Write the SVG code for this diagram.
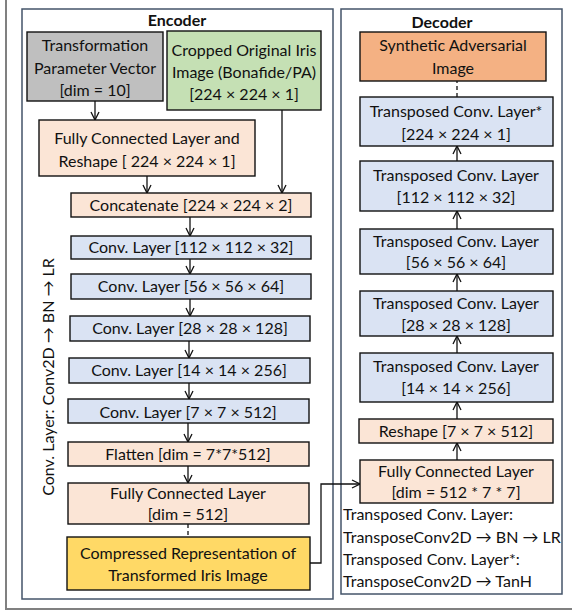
<svg xmlns="http://www.w3.org/2000/svg" width="572" height="615" viewBox="0 0 572 615">
<defs>
<style>
text{font-family:Lato,"Liberation Sans",sans-serif;font-size:16px;fill:#111;text-anchor:middle}
.t{font-weight:bold}
.l{text-anchor:start}
.n{stroke:#111;stroke-width:1.4}
.g{fill:#bfbfbf}.gr{fill:#c5e0b4}.p{fill:#fbe5d6}.b{fill:#dae3f3}.y{fill:#ffd966}.o{fill:#f4b183}
.c{fill:none;stroke:#111;stroke-width:1.3}
.d{stroke-dasharray:4,3}
.box{fill:#fff;stroke:#44546a;stroke-width:1.5}
</style>
<marker id="ah" viewBox="0 0 10 10" refX="9" refY="5" markerWidth="10" markerHeight="10" markerUnits="userSpaceOnUse" orient="auto">
<path d="M1,1 L9,5 L1,9" fill="none" stroke="#111" stroke-width="1.3"/>
</marker>
</defs>
<rect x="0" y="0" width="572" height="615" fill="#fff"/>
<rect x="6" y="-5" width="580" height="614" fill="none" stroke="#808080" stroke-width="2"/>
<g id="encoder">
<rect class="box" x="22" y="9" width="311" height="590"/>
<text class="t" x="177" y="26">Encoder</text>
<text transform="translate(54,377) rotate(-90)">Conv. Layer: Conv2D → BN → LR</text>
</g>
<g id="decoder">
<rect class="box" x="341" y="9" width="221" height="585"/>
<text class="t" x="442" y="28">Decoder</text>
<text class="l" x="343" y="520">Transposed Conv. Layer:</text>
<text class="l" x="343" y="543">TransposeConv2D → BN → LR</text>
<text class="l" x="343" y="565">Transposed Conv. Layer*:</text>
<text class="l" x="343" y="587">TransposeConv2D → TanH</text>
</g>
<g id="connectors">
<line class="c" x1="95" y1="101" x2="95" y2="120" marker-end="url(#ah)"/>
<line class="c" x1="147" y1="176" x2="147" y2="193" marker-end="url(#ah)"/>
<line class="c" x1="282" y1="110" x2="282" y2="193" marker-end="url(#ah)"/>
<line class="c" x1="190" y1="217" x2="190" y2="236" marker-end="url(#ah)"/>
<line class="c" x1="190" y1="259" x2="190" y2="274" marker-end="url(#ah)"/>
<line class="c" x1="190" y1="299" x2="190" y2="316" marker-end="url(#ah)"/>
<line class="c" x1="189" y1="341" x2="189" y2="358" marker-end="url(#ah)"/>
<line class="c" x1="189" y1="383" x2="189" y2="399" marker-end="url(#ah)"/>
<line class="c" x1="188" y1="423" x2="188" y2="442" marker-end="url(#ah)"/>
<line class="c" x1="188" y1="466" x2="188" y2="483" marker-end="url(#ah)"/>
<line class="c d" x1="188" y1="524" x2="188" y2="537"/>
<polyline class="c" points="310,563 321,563 321,484 360,484" marker-end="url(#ah)"/>
<line class="c" x1="457" y1="460" x2="457" y2="443" marker-end="url(#ah)"/>
<line class="c" x1="457" y1="419" x2="457" y2="402" marker-end="url(#ah)"/>
<line class="c" x1="457" y1="353" x2="457" y2="336" marker-end="url(#ah)"/>
<line class="c" x1="457" y1="291" x2="457" y2="274" marker-end="url(#ah)"/>
<line class="c" x1="457" y1="229" x2="457" y2="211" marker-end="url(#ah)"/>
<line class="c" x1="457" y1="161" x2="457" y2="146" marker-end="url(#ah)"/>
<line class="c d" x1="457" y1="97" x2="457" y2="81"/>
</g>
<g id="param">
<rect class="n g" x="27" y="32" width="136" height="69"/>
<text x="95" y="51">Transformation</text>
<text x="95" y="74">Parameter Vector</text>
<text x="95" y="96">[dim = 10]</text>
</g>
<g id="iris">
<rect class="n gr" x="167" y="31" width="154" height="79"/>
<text x="244" y="56">Cropped Original Iris</text>
<text x="244" y="78">Image (Bonafide/PA)</text>
<text x="244" y="100">[224 × 224 × 1]</text>
</g>
<g id="fc-reshape">
<rect class="n p" x="39" y="120" width="216" height="56"/>
<text x="147" y="144">Fully Connected Layer and</text>
<text x="147" y="167">Reshape [ 224 × 224 × 1]</text>
</g>
<g id="concat">
<rect class="n p" x="71" y="193" width="240" height="24"/>
<text x="191" y="211">Concatenate [224 × 224 × 2]</text>
</g>
<g id="conv1">
<rect class="n b" x="71" y="236" width="240" height="23"/>
<text x="191" y="253">Conv. Layer [112 × 112 × 32]</text>
</g>
<g id="conv2">
<rect class="n b" x="71" y="274" width="240" height="25"/>
<text x="191" y="292">Conv. Layer [56 × 56 × 64]</text>
</g>
<g id="conv3">
<rect class="n b" x="70" y="316" width="240" height="25"/>
<text x="190" y="334">Conv. Layer [28 × 28 × 128]</text>
</g>
<g id="conv4">
<rect class="n b" x="69" y="358" width="241" height="25"/>
<text x="189" y="376">Conv. Layer [14 × 14 × 256]</text>
</g>
<g id="conv5">
<rect class="n b" x="68" y="399" width="241" height="24"/>
<text x="188" y="418">Conv. Layer [7 × 7 × 512]</text>
</g>
<g id="flatten">
<rect class="n p" x="68" y="442" width="241" height="24"/>
<text x="188" y="460">Flatten [dim = 7*7*512]</text>
</g>
<g id="fc512">
<rect class="n p" x="68" y="483" width="241" height="41"/>
<text x="188" y="499">Fully Connected Layer</text>
<text x="188" y="520">[dim = 512]</text>
</g>
<g id="compressed">
<rect class="n y" x="67" y="537" width="243" height="53"/>
<text x="188" y="559">Compressed Representation of</text>
<text x="188" y="581">Transformed Iris Image</text>
</g>
<g id="synthetic">
<rect class="n o" x="360" y="32" width="186" height="49"/>
<text x="453" y="51">Synthetic Adversarial</text>
<text x="453" y="74">Image</text>
</g>
<g id="tconv-star">
<rect class="n b" x="360" y="97" width="193" height="49"/>
<text x="456" y="117">Transposed Conv. Layer*</text>
<text x="456" y="140">[224 × 224 × 1]</text>
</g>
<g id="tconv112">
<rect class="n b" x="360" y="161" width="193" height="50"/>
<text x="456" y="181">Transposed Conv. Layer</text>
<text x="456" y="203">[112 × 112 × 32]</text>
</g>
<g id="tconv56">
<rect class="n b" x="360" y="229" width="193" height="45"/>
<text x="456" y="247">Transposed Conv. Layer</text>
<text x="456" y="268">[56 × 56 × 64]</text>
</g>
<g id="tconv28">
<rect class="n b" x="360" y="291" width="193" height="45"/>
<text x="456" y="309">Transposed Conv. Layer</text>
<text x="456" y="331">[28 × 28 × 128]</text>
</g>
<g id="tconv14">
<rect class="n b" x="360" y="353" width="193" height="49"/>
<text x="456" y="372">Transposed Conv. Layer</text>
<text x="456" y="394">[14 × 14 × 256]</text>
</g>
<g id="reshape">
<rect class="n p" x="359" y="419" width="194" height="24"/>
<text x="456" y="437">Reshape [7 × 7 × 512]</text>
</g>
<g id="fc-dec">
<rect class="n p" x="360" y="460" width="193" height="43"/>
<text x="456" y="477">Fully Connected Layer</text>
<text x="456" y="498">[dim = 512 * 7 * 7]</text>
</g>
</svg>
